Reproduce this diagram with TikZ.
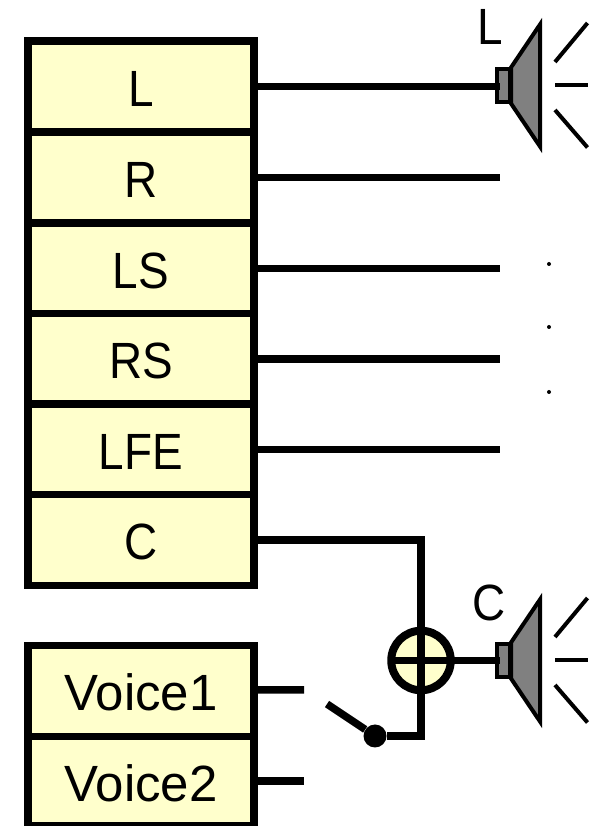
\documentclass[tikz,border=0pt]{standalone}
\usepackage{fontspec}
\setmainfont{Liberation Sans}
\newfontfamily\capsfont[FakeStretch=0.9]{Liberation Sans}
\usepackage{xcolor}
\usetikzlibrary{positioning}
\definecolor{chanyellow}{HTML}{FFFFCC}
\definecolor{spkgray}{HTML}{808080}

\begin{document}
\begin{tikzpicture}[
    chanbox/.style={rectangle, draw, line width=0.15cm, fill=chanyellow, minimum width=4.52cm, minimum height=#1, outer sep=0pt, inner sep=0pt, text height=0.8cm, text depth=0pt, font=\fontsize{29}{31}\selectfont},
    chanbox/.default=1.82cm,
    wire/.style={line width=0.15cm},
    spklabel/.style={font=\capsfont\fontsize{29}{31}\selectfont, inner sep=0pt},
    neck/.style={rectangle, draw, line width=0.08cm, fill=spkgray, minimum width=0.26cm, minimum height=0.66cm, outer sep=0pt, inner sep=0pt},
    smalldot/.style={circle, fill=black, minimum size=0.08cm, inner sep=0pt},
    speaker/.pic={
        \draw[line width=0.08cm, fill=spkgray, miter limit=10] (0.15, 0.36) -- (0.73, 1.22) -- (0.73, -1.22) -- (0.15, -0.36) -- cycle;
        \draw[line width=0.08cm] (1.03, 0.47) -- (1.68, 1.25);
        \draw[line width=0.08cm] (1.03, 0) -- (1.68, 0);
        \draw[line width=0.08cm] (1.03, -0.49) -- (1.68, -1.24);
    },
]
\useasboundingbox (0, 0) rectangle (11.86, 16.52);

% upmix channels
\node[chanbox] (chL) at (2.82, 14.79) {\capsfont L};
\node[chanbox] (chR) at (2.82, 12.97) {\capsfont R};
\node[chanbox] (chLS) at (2.82, 11.15) {\capsfont LS};
\node[chanbox] (chRS) at (2.82, 9.34) {\capsfont RS};
\node[chanbox] (chLFE) at (2.82, 7.53) {\capsfont LFE};
\node[chanbox] (chC) at (2.82, 5.72) {\capsfont C};

% voice channels
\node[chanbox=1.82cm] (voiceA) at (2.82, 2.7) {Voice1};
\node[chanbox=1.78cm] (voiceB) at (2.82, 0.9) {Voice2};

% speakers
\node[neck] (spkL) at (10.07, 14.81) {};
\pic at (spkL.center) {speaker};
\node[spklabel] (labL) at (9.8, 15.98) {L};
\node[neck] (spkC) at (10.07, 3.31) {};
\pic at (spkC.center) {speaker};
\node[spklabel] (labC) at (9.78, 4.46) {C};

% free ends
\coordinate (endL) at (10, 14.79);
\coordinate (endR) at (10, 12.97);
\coordinate (endLS) at (10, 11.15);
\coordinate (endRS) at (10, 9.34);
\coordinate (endLFE) at (10, 7.53);
\coordinate (endC) at (10, 3.31);
\coordinate (stubA) at (6.08, 2.72);
\coordinate (stubB) at (6.08, 0.9);
\coordinate (swopen) at (6.54, 2.44);
\coordinate (swcorner) at (8.42, 1.8);

% summing point and switch
\node[circle, draw, line width=0.16cm, fill=chanyellow, minimum size=1.19cm, outer sep=0pt, inner sep=0pt] (sum) at (8.42, 3.31) {};
\node[circle, fill=black, minimum size=0.46cm, inner sep=0pt] (swdot) at (7.5, 1.8) {};

\draw[wire] (chL.east) -- (endL);
\draw[wire] (chR.east) -- (endR);
\draw[wire] (chLS.east) -- (endLS);
\draw[wire] (chRS.east) -- (endRS);
\draw[wire] (chLFE.east) -- (endLFE);
\draw[wire] (chC.east) -| (swcorner) -- (swdot);
\draw[wire] (sum.west) -- (endC);
\draw[wire] ([yshift=0.02cm]voiceA.east) -- (stubA);
\draw[wire] (voiceB.east) -- (stubB);
\draw[wire] (swopen) -- (swdot);

% dots
\node[smalldot] (dotA) at (10.98, 11.24) {};
\node[smalldot] (dotB) at (10.98, 9.98) {};
\node[smalldot] (dotC) at (10.98, 8.68) {};

\end{tikzpicture}
\end{document}
